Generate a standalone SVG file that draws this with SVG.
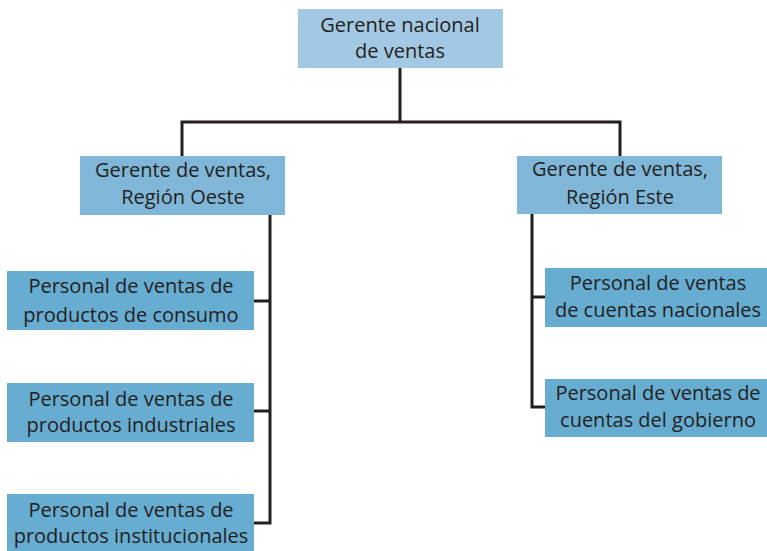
<svg xmlns="http://www.w3.org/2000/svg" width="767" height="551" viewBox="0 0 767 551">
<style>
text{font-family:"Open Sans","Liberation Sans",sans-serif;font-size:20px;fill:#231f20;text-anchor:middle}
.top{fill:#a3c8e3}
.mgr{fill:#80b6d8}
.ch{fill:#67acd1}
.ln{stroke:#231f20;stroke-width:3;fill:none}
</style>
<rect width="767" height="551" fill="#fff"/>
<g id="connectors">
<path class="ln" d="M400 68V122M182 156V122H620V156"/>
<path class="ln" d="M270 215V523H254M254 301H270M254 411H270"/>
<path class="ln" d="M532 214V407H545M532 297H545"/>
</g>
<g id="n-top"><rect class="top" x="298" y="9" width="205" height="59"/><text x="400" y="32">Gerente nacional</text><text x="400" y="58">de ventas</text></g>
<g id="n-oeste"><rect class="mgr" x="80" y="156" width="205" height="59"/><text x="183" y="177">Gerente de ventas,</text><text x="183" y="204">Región Oeste</text></g>
<g id="n-este"><rect class="mgr" x="517" y="156" width="205" height="58"/><text x="620" y="176">Gerente de ventas,</text><text x="620" y="204">Región Este</text></g>
<g id="n-consumo"><rect class="ch" x="7" y="271" width="247" height="59"/><text x="131" y="293">Personal de ventas de</text><text x="131" y="322">productos de consumo</text></g>
<g id="n-industriales"><rect class="ch" x="7" y="383" width="247" height="59"/><text x="131" y="406">Personal de ventas de</text><text x="131" y="432">productos industriales</text></g>
<g id="n-institucionales"><rect class="ch" x="7" y="494" width="247" height="57"/><text x="131" y="517">Personal de ventas de</text><text x="131" y="543">productos institucionales</text></g>
<g id="n-nacionales"><rect class="ch" x="545" y="268" width="222" height="59"/><text x="658" y="290">Personal de ventas</text><text x="658" y="317">de cuentas nacionales</text></g>
<g id="n-gobierno"><rect class="ch" x="545" y="379" width="222" height="58"/><text x="658" y="400">Personal de ventas de</text><text x="658" y="427">cuentas del gobierno</text></g>
</svg>
